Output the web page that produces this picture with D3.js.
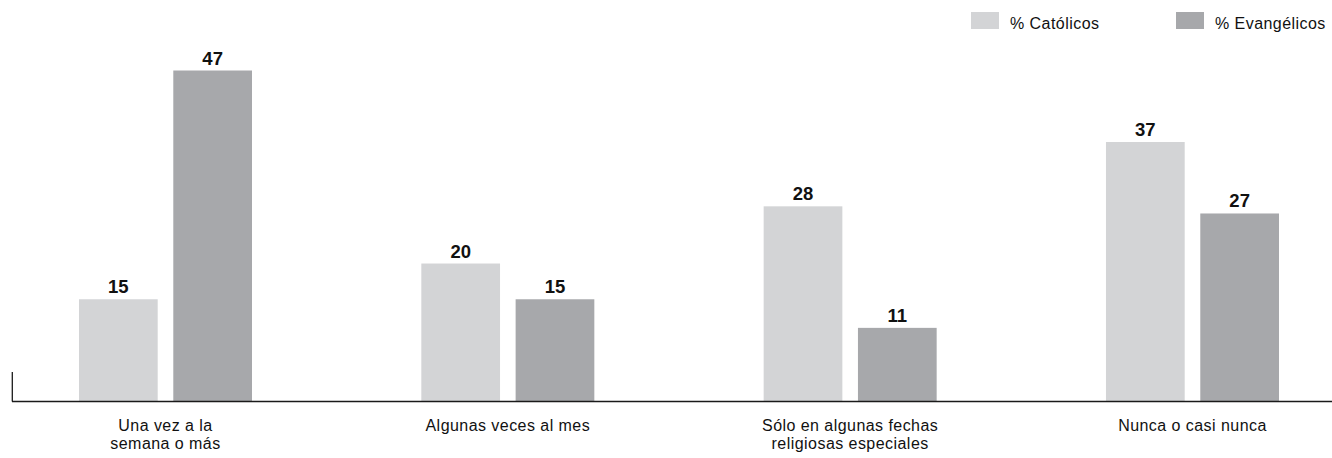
<!DOCTYPE html>
<html>
<head>
<meta charset="utf-8">
<script src="https://cdn.jsdelivr.net/npm/d3@7"></script>
<style>
  html, body { margin: 0; padding: 0; background: #fff; }
  svg { display: block; }
  text { font-family: "Liberation Sans", Arial, sans-serif; fill: #111; }
</style>
</head>
<body>
<svg id="chart" width="1332" height="458"></svg>
<script>
// Frecuencia de asistencia a servicios religiosos, católicos vs. evangélicos
const categories = [
  ["Una vez a la", "semana o más"],
  ["Algunas veces al mes"],
  ["Sólo en algunas fechas", "religiosas especiales"],
  ["Nunca o casi nunca"]
];
const seriesNames = ["% Católicos", "% Evangélicos"];
const catolicos   = [15, 20, 28, 37];
const evangelicos = [47, 15, 11, 27];
const seriesColors = ["#d3d4d6", "#a7a8ab"];

const seriesValues = [catolicos, evangelicos];
const catKeys = categories.map(c => c.join(" "));

const svg = d3.select("#chart");
const baseY = 401.5;

const x0 = d3.scaleBand()
  .domain(catKeys)
  .range([-5.67, 1363.65])
  .paddingInner(0.4946)
  .paddingOuter(0.2473);

const x1 = d3.scaleBand()
  .domain(seriesNames)
  .range([0, x0.bandwidth()])
  .paddingInner(0.1654)
  .paddingOuter(0);

const y = d3.scaleLinear()
  .domain([0.7, 47])
  .range([baseY, 70.5]);

// Barras
const groups = svg.append("g").selectAll("g")
  .data(catKeys)
  .join("g")
  .attr("transform", d => `translate(${x0(d)},0)`);

groups.selectAll("rect")
  .data((d, i) => seriesNames.map((s, j) => ({ s, j, v: seriesValues[j][i] })))
  .join("rect")
  .attr("x", d => x1(d.s))
  .attr("y", d => y(d.v))
  .attr("width", x1.bandwidth())
  .attr("height", d => baseY - y(d.v))
  .attr("fill", d => seriesColors[d.j]);

// Etiquetas de valor
groups.selectAll("text.val")
  .data((d, i) => seriesNames.map((s, j) => ({ s, j, v: seriesValues[j][i] })))
  .join("text")
  .attr("class", "val")
  .attr("x", d => x1(d.s) + x1.bandwidth() / 2)
  .attr("y", d => y(d.v) - 6)
  .attr("text-anchor", "middle")
  .style("font-weight", "bold")
  .style("font-size", "18.5px")
  .text(d => d.v);

// Eje horizontal y marca izquierda
svg.append("line")
  .attr("x1", 12).attr("x2", 1332)
  .attr("y1", baseY).attr("y2", baseY)
  .attr("stroke", "#1a1a1a").attr("stroke-width", 1.3);
svg.append("line")
  .attr("x1", 12.3).attr("x2", 12.3)
  .attr("y1", 372).attr("y2", baseY)
  .attr("stroke", "#1a1a1a").attr("stroke-width", 1.3);

// Etiquetas de categoría
const catLabels = svg.append("g").selectAll("text")
  .data(categories)
  .join("text")
  .attr("x", (d, i) => x0(catKeys[i]) + x0.bandwidth() / 2)
  .attr("y", 431)
  .attr("text-anchor", "middle")
  .style("font-size", "16px")
  .style("letter-spacing", "0.45px");
catLabels.selectAll("tspan")
  .data(d => d)
  .join("tspan")
  .attr("x", function () { return d3.select(this.parentNode).attr("x"); })
  .attr("dy", (d, i) => i === 0 ? 0 : 18)
  .text(d => d);

// Leyenda
const legendX = [971, 1176];
const legend = svg.append("g").selectAll("g")
  .data(seriesNames)
  .join("g")
  .attr("transform", (d, i) => `translate(${legendX[i]},0)`);
legend.append("rect")
  .attr("x", 0).attr("y", 12)
  .attr("width", 28).attr("height", 17)
  .attr("fill", (d, i) => seriesColors[i]);
legend.append("text")
  .attr("x", 39).attr("y", 29)
  .style("font-size", "16px")
  .style("letter-spacing", "0.45px")
  .text(d => d);
</script>
</body>
</html>
